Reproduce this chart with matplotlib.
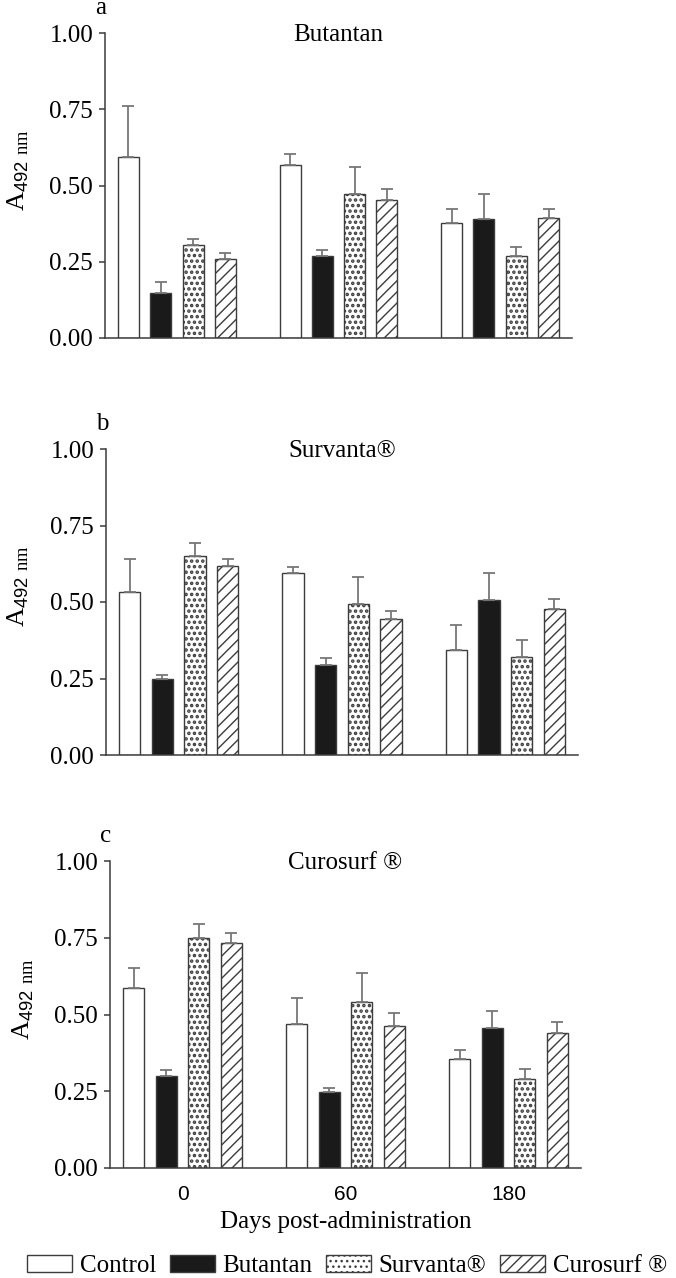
"""Antibody response (A492 nm) per surfactant group, three panels."""

from __future__ import annotations

import matplotlib

matplotlib.use("Agg")
import matplotlib.pyplot as plt
import matplotlib.transforms as mtransforms
import numpy as np

plt.rcParams["font.family"] = ["Liberation Serif", "DejaVu Serif"]
plt.rcParams["mathtext.fontset"] = "custom"
plt.rcParams["mathtext.rm"] = "Liberation Serif"
plt.rcParams["mathtext.sf"] = "Liberation Sans"

DAYS = ["0", "60", "180"]
GROUPS = ["Control", "Butantan", "Survanta\u00ae", "Curosurf \u00ae"]
PANEL_LETTERS = ["a", "b", "c"]
PANEL_TITLES = ["Butantan", "Survanta\u00ae", "Curosurf \u00ae"]

# mean absorbance per group, one row per day
BUTANTAN_MEAN = [
    [0.593, 0.147, 0.305, 0.260],
    [0.567, 0.269, 0.472, 0.454],
    [0.378, 0.391, 0.269, 0.394],
]
BUTANTAN_SEM = [
    [0.167, 0.036, 0.019, 0.018],
    [0.036, 0.020, 0.089, 0.034],
    [0.046, 0.080, 0.029, 0.029],
]
SURVANTA_MEAN = [
    [0.534, 0.247, 0.650, 0.618],
    [0.594, 0.294, 0.495, 0.444],
    [0.343, 0.508, 0.321, 0.476],
]
SURVANTA_SEM = [
    [0.105, 0.014, 0.044, 0.021],
    [0.019, 0.022, 0.086, 0.027],
    [0.081, 0.086, 0.054, 0.035],
]
CUROSURF_MEAN = [
    [0.587, 0.299, 0.750, 0.732],
    [0.468, 0.246, 0.541, 0.463],
    [0.354, 0.455, 0.291, 0.440],
]
CUROSURF_SEM = [
    [0.065, 0.021, 0.045, 0.032],
    [0.086, 0.016, 0.095, 0.041],
    [0.031, 0.057, 0.032, 0.037],
]

Y_TICKS = [0.0, 0.25, 0.5, 0.75, 1.0]

EDGE = "#3c3c3c"
ERR = "#777777"
STYLES = [
    {"facecolor": "white", "hatch": None, "hlw": 1.0},
    {"facecolor": "#1a1a1a", "hatch": None, "hlw": 1.0},
    {"facecolor": "white", "hatch": "...", "hlw": 1.7},
    {"facecolor": "white", "hatch": "///", "hlw": 1.0},
]

# axes rectangles in pixels: left, right, top, bottom
AXES_PX = [
    (105, 572, 33, 338),
    (106, 578, 449, 755),
    (110, 581, 861, 1168),
]
W_PX, H_PX = 676, 1278


def draw_panel(ax, means, sems, letter, title, show_x):
    means = np.asarray(means)
    sems = np.asarray(sems)
    x = np.arange(len(DAYS))
    width = 0.13
    step = 0.2
    bars = []
    for i, style in enumerate(STYLES):
        pos = x + (i - 1.5) * step
        with plt.rc_context({"hatch.linewidth": style["hlw"],
                             "hatch.color": "#202020"}):
            b = ax.bar(
                pos, means[:, i], width,
                facecolor=style["facecolor"], hatch=style["hatch"],
                edgecolor=EDGE, linewidth=1.0, zorder=2, label=GROUPS[i],
            )
        ax.errorbar(
            pos, means[:, i],
            yerr=[np.zeros(len(DAYS)), sems[:, i]],
            fmt="none", ecolor=ERR, elinewidth=1.3, capsize=4.5,
            capthick=1.3, zorder=3,
        )
        bars.append(b)

    ax.set_xlim(-0.445, 2.445)
    ax.set_ylim(0, 1.0)
    ax.set_yticks(Y_TICKS)
    ax.set_yticklabels([f"{v:.2f}" for v in Y_TICKS])
    for side in ("top", "right"):
        ax.spines[side].set_visible(False)
    for side in ("left", "bottom"):
        ax.spines[side].set_color(EDGE)
        ax.spines[side].set_linewidth(1.1)
    ax.tick_params(axis="y", length=4.5, width=1.1, color=EDGE, pad=4, labelsize=18)
    ax.set_xticks(x)
    if show_x:
        ax.set_xticklabels(DAYS, family="Liberation Sans", fontsize=15)
        ax.tick_params(axis="x", length=0, pad=12)
        ax.set_xlabel("Days post-administration", fontsize=18, labelpad=5)
    else:
        ax.set_xticklabels([])
        ax.tick_params(axis="x", length=0)

    ax.set_ylabel(r"A$_{\mathsf{492}\ \mathrm{nm}}$", fontsize=19, va="center")
    ax.yaxis.set_label_coords(-0.185, 0.55)

    ax.text(0.5, 0.995, title, transform=ax.transAxes, ha="center",
            va="center", fontsize=18)
    trans = mtransforms.offset_copy(ax.transAxes, fig=ax.figure, x=-4, y=19,
                                    units="dots")
    ax.text(0, 1, letter, transform=trans, ha="center", va="baseline",
            fontsize=18)
    return bars


def main():
    fig = plt.figure(figsize=(W_PX / 100, H_PX / 100), dpi=100)
    data = [
        (BUTANTAN_MEAN, BUTANTAN_SEM),
        (SURVANTA_MEAN, SURVANTA_SEM),
        (CUROSURF_MEAN, CUROSURF_SEM),
    ]
    handles = None
    for k, ((means, sems), rect) in enumerate(zip(data, AXES_PX)):
        left, right, top, bottom = rect
        ax = fig.add_axes([
            left / W_PX, 1 - bottom / H_PX,
            (right - left) / W_PX, (bottom - top) / H_PX,
        ])
        bars = draw_panel(ax, means, sems, PANEL_LETTERS[k], PANEL_TITLES[k],
                          show_x=(k == 2))
        if handles is None:
            handles = bars

    fig.legend(
        handles, GROUPS, loc="center", ncol=4, frameon=False,
        bbox_to_anchor=(347 / W_PX, 1 - 1266 / H_PX), fontsize=18,
        handlelength=1.8, handleheight=0.7, handletextpad=0.3,
        columnspacing=0.55, borderaxespad=0, borderpad=0,
    )
    fig.savefig("out.png", dpi=100)
    plt.close(fig)


if __name__ == "__main__":
    main()
